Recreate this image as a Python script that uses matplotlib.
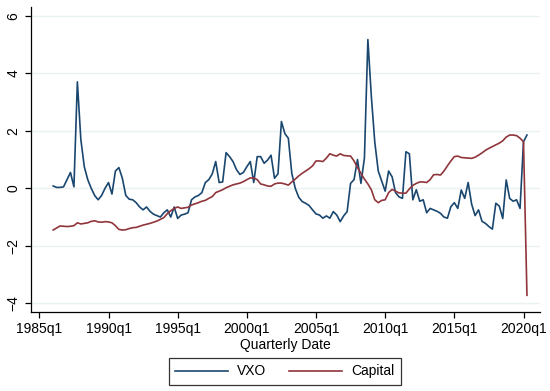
import numpy as np
import pandas as pd
import matplotlib
matplotlib.use("Agg")
import matplotlib.pyplot as plt

plt.rcParams['font.family'] = ['Liberation Sans', 'DejaVu Sans']

# quarterly series, 1986q1 .. 2020q2
quarters = pd.period_range('1986Q1', '2020Q2', freq='Q')

vxo = [
    0.08, 0.03, 0.03, 0.05, 0.30, 0.55, 0.05, 3.70, 1.70, 0.75,
    0.30, 0.00, -0.25, -0.40, -0.25, 0.00, 0.20, -0.20, 0.60, 0.72,
    0.35, -0.25, -0.38, -0.40, -0.50, -0.65, -0.75, -0.65, -0.80, -0.90,
    -0.95, -1.00, -0.85, -0.75, -1.00, -0.65, -1.05, -0.93, -0.90, -0.85,
    -0.40, -0.30, -0.25, -0.15, 0.20, 0.30, 0.50, 0.93, 0.20, 0.22,
    1.24, 1.10, 0.93, 0.65, 0.48, 0.55, 0.75, 0.93, 0.20, 1.10,
    1.10, 0.87, 0.98, 1.15, 0.35, 0.50, 2.32, 1.90, 1.74, 0.52,
    0.00, -0.31, -0.46, -0.52, -0.60, -0.75, -0.89, -0.93, -1.04, -0.96,
    -1.04, -0.81, -0.93, -1.16, -0.96, -0.81, 0.17, 0.30, 1.00, 0.17,
    1.05, 5.17, 3.20, 1.60, 0.60, 0.25, -0.10, 0.60, 0.40, -0.15,
    -0.30, -0.35, 1.27, 1.20, -0.40, -0.05, -0.45, -0.40, -0.85, -0.70,
    -0.75, -0.80, -0.87, -1.00, -1.04, -0.64, -0.50, -0.70, -0.06, -0.35,
    0.20, -0.55, -0.95, -0.75, -1.15, -1.22, -1.33, -1.42, -0.52, -0.62,
    -1.05, 0.29, -0.35, -0.45, -0.40, -0.70, 1.62, 1.85,
]

capital = [
    -1.45, -1.38, -1.31, -1.32, -1.33, -1.32, -1.30, -1.20, -1.24, -1.22,
    -1.20, -1.15, -1.13, -1.17, -1.18, -1.16, -1.17, -1.20, -1.30, -1.43,
    -1.45, -1.44, -1.40, -1.37, -1.36, -1.32, -1.28, -1.25, -1.22, -1.18,
    -1.14, -1.08, -1.02, -0.88, -0.78, -0.70, -0.65, -0.70, -0.68, -0.66,
    -0.58, -0.54, -0.50, -0.45, -0.42, -0.35, -0.29, -0.15, -0.10, -0.05,
    0.02, 0.07, 0.12, 0.15, 0.18, 0.23, 0.30, 0.36, 0.36, 0.30,
    0.15, 0.12, 0.08, 0.07, 0.15, 0.18, 0.18, 0.15, 0.11, 0.22,
    0.32, 0.43, 0.52, 0.60, 0.68, 0.78, 0.95, 0.95, 0.93, 1.05,
    1.20, 1.15, 1.12, 1.20, 1.14, 1.13, 1.12, 0.95, 0.72, 0.52,
    0.32, 0.15, -0.05, -0.40, -0.50, -0.42, -0.40, -0.15, -0.04, -0.10,
    -0.16, -0.17, -0.17, -0.02, 0.10, 0.17, 0.22, 0.22, 0.20, 0.30,
    0.47, 0.48, 0.46, 0.60, 0.78, 0.95, 1.10, 1.12, 1.07, 1.06,
    1.05, 1.04, 1.08, 1.15, 1.23, 1.32, 1.39, 1.45, 1.51, 1.57,
    1.65, 1.78, 1.85, 1.85, 1.83, 1.74, 1.62, -3.72,
]

tick_labels = ['1985q1', '1990q1', '1995q1', '2000q1', '2005q1', '2010q1', '2015q1', '2020q1']
y_ticks = [-4, -2, 0, 2, 4, 6]

base = pd.Period('1985Q1', freq='Q')
x = np.array([(q - base).n for q in quarters])
xt = [(pd.Period(t.upper(), freq='Q') - base).n for t in tick_labels]

fig = plt.figure(figsize=(5.5, 3.91), dpi=100, facecolor='white')
ax = fig.add_axes([0.0558, 0.2028, 0.9262, 0.7792])

for yv in y_ticks:
    ax.axhline(yv, color='#eaf2f3', lw=1.0, zorder=0)

ax.plot(x, vxo, color='#1a476f', lw=1.2, label='VXO')
ax.plot(x, capital, color='#90353b', lw=1.2, label='Capital')

ax.set_xlim(-2.5, 144.8)
ax.set_ylim(-4.29, 6.3)
ax.set_xticks(xt)
ax.set_xticklabels(tick_labels)
ax.set_yticks(y_ticks)
ax.set_yticklabels([str(v).replace('-', '\u2212') for v in y_ticks], rotation=90, va='center')
ax.tick_params(labelsize=10, length=4, width=0.9, color='black')
for s in ['top', 'right']:
    ax.spines[s].set_visible(False)
for s in ['left', 'bottom']:
    ax.spines[s].set_linewidth(0.9)
ax.set_xlabel('Quarterly Date', fontsize=10, labelpad=1)

leg = fig.legend(loc='center', bbox_to_anchor=(0.518, 0.05), ncol=2, fontsize=10,
                 frameon=True, fancybox=False, handlelength=3.8, handletextpad=0.65,
                 columnspacing=1.65, borderpad=0.45)
leg.get_frame().set_edgecolor('black')
leg.get_frame().set_linewidth(0.9)

fig.savefig('out.png', dpi=100, facecolor='white')
